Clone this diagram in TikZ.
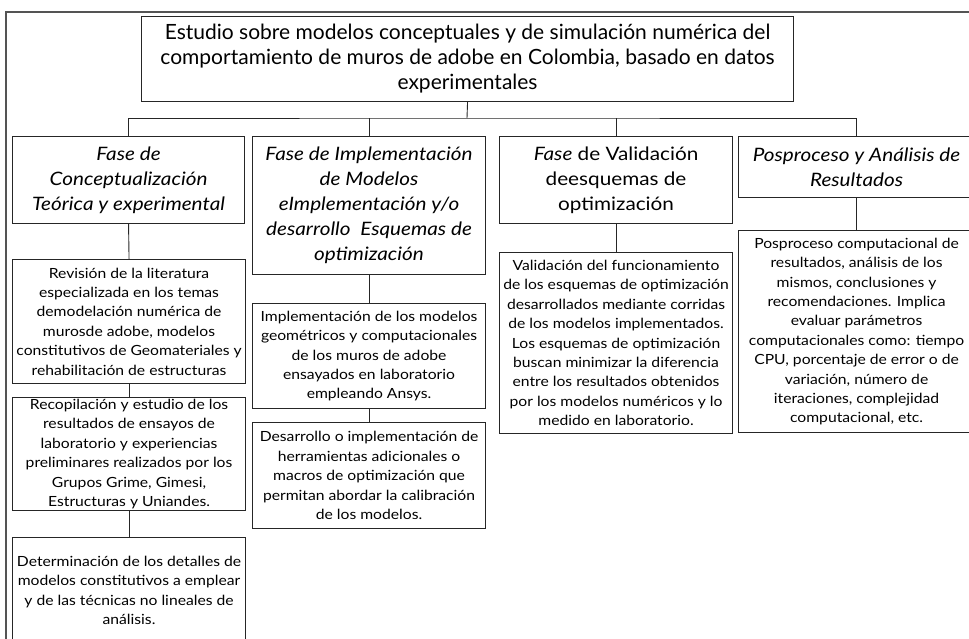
\documentclass[tikz,border=0pt]{standalone}
\usepackage{fontspec}
\setmainfont{Lato}[FakeStretch=1.12]
\newfontfamily\titulofamily{Lato}
\newlength{\du}
\setlength{\du}{1pt}
\newcommand{\cuerpo}{\fontsize{14}{19.4}\selectfont}
\newcommand{\fasefont}{\fontsize{18.5}{25}\selectfont}
\newcommand{\titulofont}{\titulofamily\fontsize{21}{25}\selectfont}
\definecolor{marcocolor}{rgb}{0.330000, 0.330000, 0.330000}
\definecolor{cajacolor}{rgb}{0.150000, 0.150000, 0.150000}
\tikzset{
  caja/.style={draw=cajacolor, line width=1.1\du, anchor=north west, align=center,
    inner sep=0pt, font=\cuerpo},
  fase/.style={caja, font=\fasefont\itshape},
  enlace/.style={draw=cajacolor, line width=0.9\du},
}

\begin{document}
\begin{tikzpicture}
\pgftransformxscale{1.000000}
\pgftransformyscale{-1.000000}
\useasboundingbox (0\du,0\du) rectangle (969\du,638\du);
\clip (0\du,0\du) rectangle (969\du,638\du);
% marco exterior
\draw[marcocolor, line width=2\du] (975\du,12\du)--(6\du,12\du)--(6\du,650\du);
% titulo
\node[caja, font=\titulofont, minimum width=652\du, minimum height=85\du] (titulo) at (141\du,16\du){Estudio sobre modelos conceptuales y de simulación numérica del\\comportamiento de muros de adobe en Colombia, basado en datos\\experimentales};
\coordinate (bus) at (467\du,118\du);
% fases
\node[fase, minimum width=232\du, minimum height=87\du] (fase1) at (12\du,136\du){Fase de\\Conceptualización\\Teórica y experimental};
\node[fase, minimum width=233\du, minimum height=138\du] (fase2) at (252\du,136\du){Fase de Implementación\\de Modelos\\eImplementación y/o\\desarrollo\ \ Esquemas de\\optimización};
\node[caja, font=\fasefont, minimum width=233\du, minimum height=87\du] (fase3) at (499\du,136\du){\textit{Fase} de Validación\\deesquemas de\\optimización};
\node[fase, minimum width=236\du, minimum height=61\du] (fase4) at (738\du,136\du){Posproceso y Análisis de\\Resultados};
% actividades columna 1
\node[caja, minimum width=233\du, minimum height=124\du] (revision) at (12\du,259\du){Revisión de la literatura\\especializada en los temas\\demodelación numérica de\\murosde adobe, modelos\\constitutivos de Geomateriales y\\rehabilitación de estructuras};
\node[caja, minimum width=233\du, minimum height=113\du] (recopilacion) at (12\du,397\du){Recopilación y estudio de los\\resultados de ensayos de\\laboratorio y experiencias\\preliminares realizados por los\\Grupos Grime, Gimesi,\\Estructuras y Uniandes.};
\node[caja, minimum width=233\du, minimum height=106\du] (determinacion) at (12\du,537\du){Determinación de los detalles de\\modelos constitutivos a emplear\\y de las técnicas no lineales de\\análisis.};
% actividades columna 2
\node[caja, minimum width=233\du, minimum height=105\du] (implementacion) at (252\du,303\du){Implementación de los modelos\\geométricos y computacionales\\de los muros de adobe\\ensayados en laboratorio\\empleando Ansys.};
\node[caja, minimum width=233\du, minimum height=106\du] (desarrollo) at (252\du,422\du){Desarrollo o implementación de\\herramientas adicionales o\\macros de optimización que\\permitan abordar la calibración\\de los modelos.};
% actividades columnas 3 y 4
\node[caja, minimum width=233\du, minimum height=181\du] (validacion) at (499\du,252\du){Validación del funcionamiento\\de los esquemas de optimización\\desarrollados mediante corridas\\de los modelos implementados.\\Los esquemas de optimización\\buscan minimizar la diferencia\\entre los resultados obtenidos\\por los modelos numéricos y lo\\medido en laboratorio.};
\node[caja, minimum width=236\du, minimum height=202\du] (posproceso) at (738\du,230\du){Posproceso computacional de\\resultados, análisis de los\\mismos, conclusiones y\\recomendaciones. Implica\\evaluar parámetros\\computacionales como: tiempo\\CPU, porcentaje de error o de\\variación, número de\\iteraciones, complejidad\\computacional, etc.};
% conectores
\draw[enlace] (titulo.south)--(bus);
\draw[enlace] (fase1.north) |- (bus) -| (fase4.north);
\draw[enlace] (fase2.north)--(fase2.north |- bus);
\draw[enlace] (fase3.north)--(fase3.north |- bus);
\draw[enlace] (fase1.south)--(revision.north);
\draw[enlace] (revision.south)--(recopilacion.north);
\draw[enlace] (recopilacion.south)--(determinacion.north);
\draw[enlace] (fase2.south)--(implementacion.north);
\draw[enlace] (implementacion.south)--(desarrollo.north);
\draw[enlace] (fase3.south)--(validacion.north);
\draw[enlace] (fase4.south)--(posproceso.north);
\end{tikzpicture}
\end{document}
